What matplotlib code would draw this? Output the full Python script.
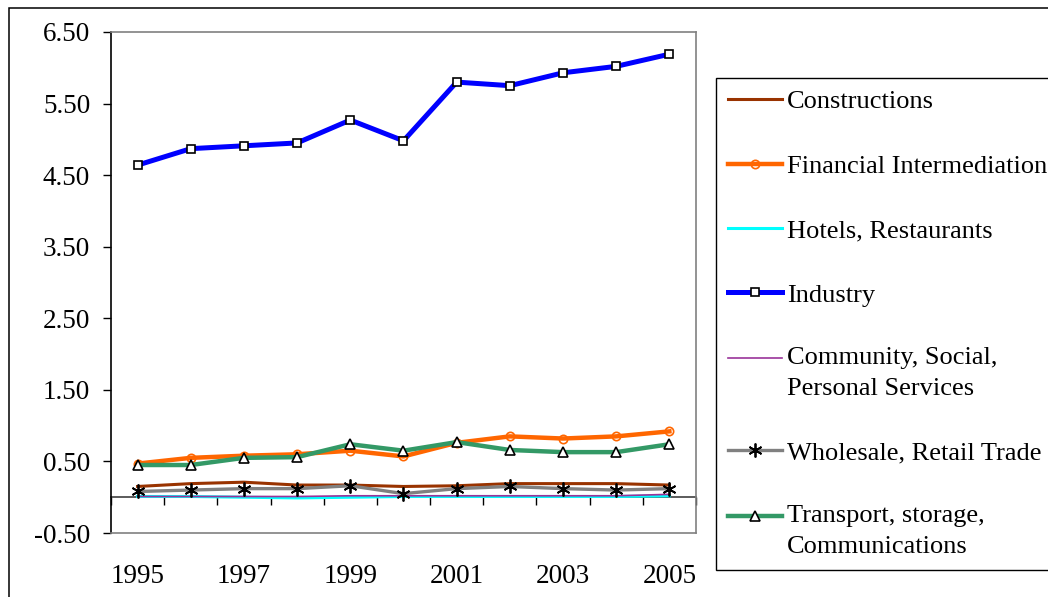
import matplotlib
matplotlib.use("Agg")
import matplotlib.pyplot as plt
from matplotlib.patches import Rectangle
from matplotlib.ticker import FormatStrFormatter, FixedLocator, NullFormatter
from matplotlib.legend_handler import HandlerLine2D
import numpy as np

plt.rcParams['font.family'] = ['Liberation Serif', 'DejaVu Serif']
plt.rcParams['font.size'] = 19.5

years = [1995, 1996, 1997, 1998, 1999, 2000, 2001, 2002, 2003, 2004, 2005]
year_labels = ['1995', '', '1997', '', '1999', '', '2001', '', '2003', '', '2005']

constructions = [0.15, 0.19, 0.21, 0.17, 0.17, 0.15, 0.16, 0.19, 0.19, 0.19, 0.17]
financial = [0.47, 0.55, 0.58, 0.60, 0.65, 0.57, 0.76, 0.85, 0.82, 0.85, 0.92]
hotels = [0.01, 0.01, 0.00, -0.01, 0.00, 0.01, 0.01, 0.01, 0.01, 0.01, 0.02]
industry = [4.64, 4.87, 4.91, 4.95, 5.27, 4.98, 5.80, 5.75, 5.93, 6.02, 6.19]
community = [0.01, 0.01, 0.01, 0.01, 0.02, 0.02, 0.02, 0.02, 0.02, 0.02, 0.04]
wholesale = [0.08, 0.10, 0.12, 0.12, 0.16, 0.05, 0.12, 0.15, 0.12, 0.10, 0.12]
transport = [0.45, 0.45, 0.55, 0.56, 0.74, 0.65, 0.77, 0.66, 0.63, 0.63, 0.74]

x = np.arange(len(years))


# legend key lined up with the first line of a two-line label (like Excel)
class FirstLineHandler(HandlerLine2D):
    def create_artists(self, legend, orig_handle, xdescent, ydescent, width, height, fontsize, trans):
        arts = super().create_artists(legend, orig_handle, xdescent, ydescent,
                                      width, height, fontsize, trans)
        for a in arts:
            a.set_ydata(np.asarray(a.get_ydata()) + 0.55 * fontsize)
        return arts


fig = plt.figure(figsize=(10.48, 5.97), dpi=100)
ax = fig.add_axes([0.1059, 0.1072, 0.5582, 0.8392])

# outer chart border (runs off the image on the right/bottom)
fig.patches.append(Rectangle((0.0086, -0.2), 1.3, 1.1866, transform=fig.transFigure,
                             fill=False, edgecolor='black', lw=1.1, clip_on=False))

ax.plot(x, constructions, color='#993300', lw=2.2, label='Constructions')
ax.plot(x, financial, color='#FF6600', lw=3.2, marker='o', ms=6, mfc='none',
        mec='#FF6600', mew=1.2, label='Financial Intermediation')
ax.plot(x, hotels, color='#00FFFF', lw=2.2, label='Hotels, Restaurants')
ax.plot(x, industry, color='#0000FF', lw=3.6, marker='s', ms=6, mfc='white',
        mec='black', mew=1.2, label='Industry')
l_com, = ax.plot(x, community, color='#993399', lw=1.2,
                 label='Community, Social,\nPersonal Services')
ax.plot(x, wholesale, color='#808080', lw=2.4, marker=(6, 2, 0), ms=10, mec='black',
        mew=1.3, label='Wholesale, Retail Trade')
l_tr, = ax.plot(x, transport, color='#339966', lw=3.2, marker='^', ms=7, mfc='white',
                mec='black', mew=1.2, label='Transport, storage,\nCommunications')

ax.set_xlim(-0.5, 10.5)
ax.set_ylim(-0.5, 6.5)
ax.set_yticks(np.arange(-0.5, 6.6, 1.0))
ax.yaxis.set_major_formatter(FormatStrFormatter('%.2f'))
ax.tick_params(axis='y', direction='out', length=6, width=1, pad=9)

ax.set_xticks(x)
ax.set_xticklabels(year_labels)
ax.tick_params(axis='x', length=0, pad=22)

for s in ['top', 'right', 'bottom']:
    ax.spines[s].set_color('#808080')
    ax.spines[s].set_linewidth(1.2)
ax.spines['left'].set_color('black')
ax.spines['left'].set_linewidth(1.2)

# category axis crossing at zero
sec = ax.secondary_xaxis(0.5 / 7.0)
sec.xaxis.set_major_locator(FixedLocator(np.arange(-0.5, 11, 1.0)))
sec.xaxis.set_major_formatter(NullFormatter())
sec.tick_params(axis='x', direction='out', length=6, width=1, color='black')
sec.spines['bottom'].set_color('#404040')
sec.spines['bottom'].set_linewidth(1.2)

leg = fig.legend(loc='upper left', bbox_to_anchor=(0.6832, 0.8693), frameon=True,
                 fancybox=False, edgecolor='black', framealpha=1, borderpad=0.45,
                 labelspacing=1.55, handlelength=2.05, handletextpad=0.2,
                 borderaxespad=0, numpoints=1, fontsize=19,
                 handler_map={l_com: FirstLineHandler(), l_tr: FirstLineHandler()})
leg.get_frame().set_linewidth(1.0)
for t in leg.get_texts():
    t.set_linespacing(1.5)

fig.savefig('out.png', dpi=100)
